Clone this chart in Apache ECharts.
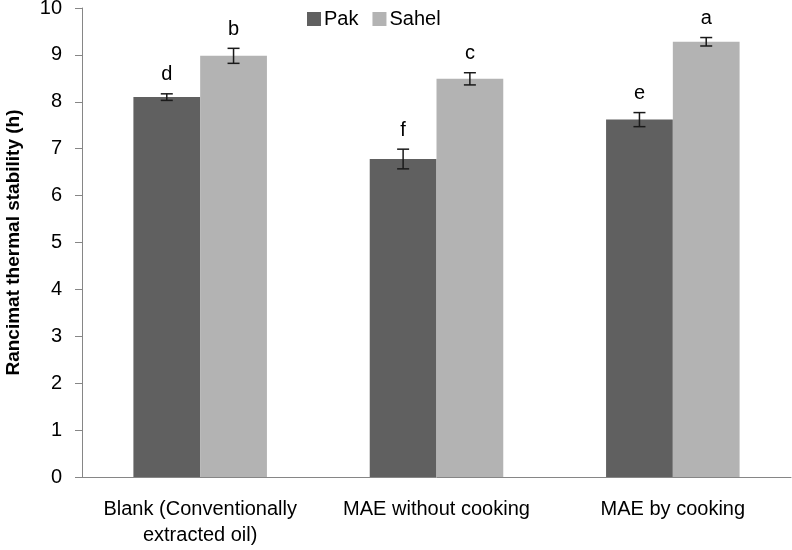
<!DOCTYPE html>
<html>
<head>
<meta charset="utf-8">
<script src="https://cdn.jsdelivr.net/npm/echarts@6/dist/echarts.min.js"></script>
<style>
  html, body { margin: 0; padding: 0; background: #fff; }
  #main { width: 792px; height: 550px; }
</style>
</head>
<body>
<div id="main"></div>
<script>
const categories = ['Blank (Conventionally\nextracted oil)', 'MAE without cooking', 'MAE by cooking']
const pakValues = [8.1, 6.78, 7.62]
const pakErrors = [0.07, 0.21, 0.15]
const pakLetters = ['d', 'f', 'e']
const sahelValues = [8.98, 8.49, 9.28]
const sahelErrors = [0.16, 0.13, 0.09]
const sahelLetters = ['b', 'c', 'a']

const FONT = 'Liberation Sans'
const GAP = 0.435

// error bars + significance letters, offset to match the grouped bars
function errorSeries(name, values, errors, letters, side) {
    return {
        type: 'custom',
        name: name + '_err',
        z: 5,
        data: values.map((v, i) => [i, v, errors[i]]),
        renderItem: (params, api) => {
            const band = api.size([1, 0])[0]
            const barW = band * (1 - GAP) / 2
            const c = api.coord([api.value(0), api.value(1)])
            const x = c[0] + side * barW / 2
            const top = api.coord([api.value(0), api.value(1) + api.value(2)])[1]
            const bot = api.coord([api.value(0), api.value(1) - api.value(2)])[1]
            const cap = 6
            const style = { stroke: '#1a1a1a', lineWidth: 1.5 }
            return {
                type: 'group',
                children: [
                    { type: 'line', shape: { x1: x, y1: top, x2: x, y2: bot }, style },
                    { type: 'line', shape: { x1: x - cap, y1: top, x2: x + cap, y2: top }, style },
                    { type: 'line', shape: { x1: x - cap, y1: bot, x2: x + cap, y2: bot }, style },
                    {
                        type: 'text',
                        style: {
                            text: letters[params.dataIndex],
                            x: x, y: top - 9,
                            align: 'center', verticalAlign: 'bottom',
                            font: '20px ' + FONT, fill: '#000'
                        }
                    }
                ]
            }
        }
    }
}

const chart = echarts.init(document.getElementById('main'))
chart.setOption({
    animation: false,
    textStyle: { fontFamily: FONT },
    grid: { left: 82, right: 1, top: 8, bottom: 73, outerBoundsMode: 'none', containLabel: false },
    legend: {
        data: ['Pak', 'Sahel'],
        top: 4, left: 302,
        itemWidth: 14, itemHeight: 14, itemGap: 14,
        icon: 'rect',
        textStyle: { fontSize: 20, color: '#000', fontFamily: FONT, padding: [0, 0, 0, -2] }
    },
    xAxis: {
        type: 'category',
        data: categories,
        axisLine: { lineStyle: { color: '#868686', width: 1 } },
        axisTick: { length: 7, lineStyle: { color: '#868686' } },
        axisLabel: { color: '#000', fontSize: 20, lineHeight: 26, margin: 19, interval: 0 }
    },
    yAxis: {
        type: 'value',
        min: 0, max: 10, interval: 1,
        name: 'Rancimat thermal stability (h)',
        nameLocation: 'middle',
        nameGap: 59,
        nameTextStyle: { fontSize: 19, fontWeight: 'bold', color: '#000', fontFamily: FONT },
        axisLine: { show: true, lineStyle: { color: '#868686', width: 1 } },
        axisTick: { show: true, length: 7, lineStyle: { color: '#868686' } },
        axisLabel: { color: '#000', fontSize: 20, margin: 20 },
        splitLine: { show: false }
    },
    series: [
        {
            name: 'Pak', type: 'bar', data: pakValues,
            barGap: '0%', barCategoryGap: (GAP * 100) + '%',
            itemStyle: { color: '#606060' }
        },
        {
            name: 'Sahel', type: 'bar', data: sahelValues,
            itemStyle: { color: '#b3b3b3' }
        },
        errorSeries('Pak', pakValues, pakErrors, pakLetters, -1),
        errorSeries('Sahel', sahelValues, sahelErrors, sahelLetters, 1)
    ]
})
</script>
</body>
</html>
